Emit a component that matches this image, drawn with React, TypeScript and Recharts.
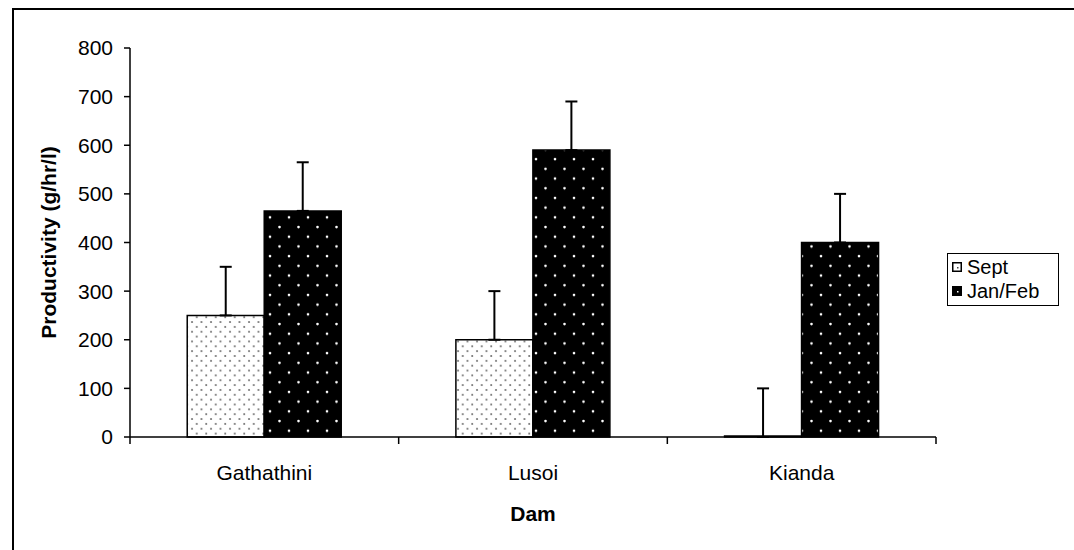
import React from 'react';
import { BarChart, Bar, XAxis, YAxis, ErrorBar, Label } from 'recharts';

const categories = ['Gathathini', 'Lusoi', 'Kianda'];
const septValues = [250, 200, 0];
const janFebValues = [465, 590, 400];
const septErrors = [100, 100, 100];
const janFebErrors = [100, 100, 100];
const yTicks = [0, 100, 200, 300, 400, 500, 600, 700, 800];
const seriesNames = ['Sept', 'Jan/Feb'];

const data = categories.map((dam, i) => ({
  dam,
  sept: septValues[i],
  janFeb: janFebValues[i],
  septErr: [0, septErrors[i]],
  janFebErr: [0, janFebErrors[i]],
}));

const FONT = '"Liberation Sans", Arial, sans-serif';

const YTitle = (props: any) => {
  const vb = props.viewBox || {};
  const cx = 48;
  const cy = vb.y + vb.height / 2;
  return (
    <text
      x={cx}
      y={cy}
      transform={`rotate(-90, ${cx}, ${cy})`}
      textAnchor="middle"
      dominantBaseline="central"
      fontFamily={FONT}
      fontSize={21}
      fontWeight="bold"
      fill="#000"
    >
      Productivity (g/hr/l)
    </text>
  );
};

const CatTick = (props: any) => {
  const { x, y, payload, index, visibleTicksCount } = props;
  const half = payload && typeof payload.offset === 'number' ? payload.offset : 0;
  const isLast = index === (visibleTicksCount ?? categories.length) - 1;
  return (
    <g>
      <line x1={x - half} x2={x - half} y1={y} y2={y + 7} stroke="#000" strokeWidth={1.5} />
      {isLast && <line x1={x + half} x2={x + half} y1={y} y2={y + 7} stroke="#000" strokeWidth={1.5} />}
      <text x={x} y={y + 28} dy="0.71em" textAnchor="middle" fill="#000" fontSize={21} fontFamily={FONT}>
        {payload.value}
      </text>
    </g>
  );
};

const Swatch = ({ dark }: { dark: boolean }) => (
  <svg width={10} height={10} style={{ display: 'block' }}>
    <rect x={0.75} y={0.75} width={8.5} height={8.5} fill={dark ? '#000' : '#fff'} stroke="#000" strokeWidth={1.5} />
    <rect x={5} y={5} width={1.5} height={1.5} fill={dark ? '#fff' : '#444'} />
  </svg>
);

export default function App() {
  return (
    <div style={{ position: 'absolute', left: 0, top: 0, width: 1074, height: 550, background: '#fff', overflow: 'hidden' }}>
      <div
        style={{
          position: 'absolute',
          left: 12,
          top: 8,
          width: 1100,
          height: 600,
          borderTop: '2px solid #000',
          borderLeft: '2px solid #000',
        }}
      />
      <div style={{ position: 'absolute', left: 0, top: 0 }}>
        <BarChart
          width={1074}
          height={550}
          data={data}
          margin={{ top: 48, right: 138, bottom: 0, left: 0 }}
          barCategoryGap="21.3%"
          barGap={0}
        >
          <defs>
            <pattern id="septDots" width="9.5" height="9.7" patternUnits="userSpaceOnUse">
              <rect width="9.5" height="9.7" fill="#fff" />
              <circle cx="2" cy="2" r="1" fill="#666" />
              <circle cx="6.75" cy="6.85" r="1" fill="#666" />
            </pattern>
            <pattern id="janDots" width="19" height="19.4" patternUnits="userSpaceOnUse">
              <rect width="19" height="19.4" fill="#000" />
              <circle cx="4" cy="4" r="1.3" fill="#fff" />
              <circle cx="13.5" cy="13.7" r="1.3" fill="#fff" />
            </pattern>
          </defs>
          <XAxis
            dataKey="dam"
            height={113}
            axisLine={{ stroke: '#000', strokeWidth: 1.5 }}
            tickLine={false}
            tickSize={0}
            tickMargin={0}
            interval={0}
            tick={<CatTick />}
          >
            <Label
              value="Dam"
              position="insideBottom"
              offset={29}
              style={{ fill: '#000', fontSize: 21, fontWeight: 'bold', fontFamily: FONT }}
            />
          </XAxis>
          <YAxis
            width={130}
            domain={[0, 800]}
            ticks={yTicks}
            interval={0}
            tickSize={6}
            tickMargin={11}
            axisLine={{ stroke: '#000', strokeWidth: 1.5 }}
            tickLine={{ stroke: '#000', strokeWidth: 1.5 }}
            tick={{ fill: '#000', fontSize: 21, fontFamily: FONT }}
          >
            <Label content={<YTitle />} />
          </YAxis>
          <Bar dataKey="sept" name={seriesNames[0]} fill="url(#septDots)" stroke="#000" strokeWidth={1.5} minPointSize={1} isAnimationActive={false}>
            <ErrorBar dataKey="septErr" width={6} stroke="#000" strokeWidth={2} direction="y" />
          </Bar>
          <Bar dataKey="janFeb" name={seriesNames[1]} fill="url(#janDots)" stroke="#000" strokeWidth={1.5} isAnimationActive={false}>
            <ErrorBar dataKey="janFebErr" width={6} stroke="#000" strokeWidth={2} direction="y" />
          </Bar>
        </BarChart>
      </div>
      <div
        style={{
          position: 'absolute',
          left: 947,
          top: 253,
          width: 110,
          height: 50,
          border: '1.5px solid #000',
          background: '#fff',
          fontFamily: FONT,
          fontSize: 20,
          color: '#000',
          padding: '1px 0 0 0',
        }}
      >
        {seriesNames.map((name, i) => (
          <div key={name} style={{ display: 'flex', alignItems: 'center', height: 24, paddingLeft: 4 }}>
            <Swatch dark={i === 1} />
            <span style={{ marginLeft: 5, lineHeight: '24px' }}>{name}</span>
          </div>
        ))}
      </div>
    </div>
  );
}
